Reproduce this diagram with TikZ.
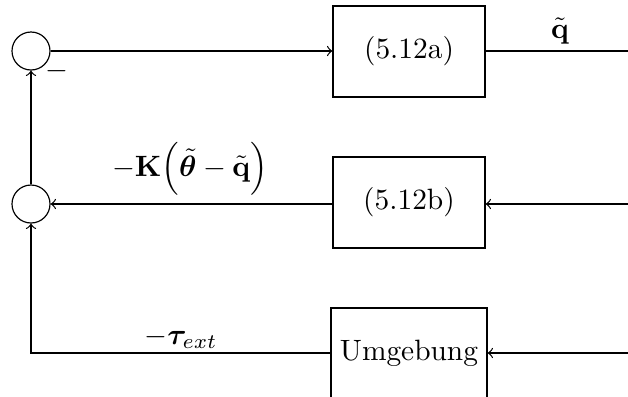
\documentclass[tikz,border=0pt]{standalone}
\usepackage{amsmath,bm}
\begin{document}
\begin{tikzpicture}[x=0.34pt,y=-0.34pt,
  sumnode/.style={circle,draw,minimum size=12.92pt,inner sep=0pt},
  blk/.style={draw,rectangle,minimum width=51.68pt,minimum height=30.94pt,inner sep=0pt},
  conn/.style={->,line width=0.4pt},
  lbl/.style={inner sep=0pt}]
\useasboundingbox (0,0) rectangle (628,396);
\clip (0,0) rectangle (628,396);
\node[sumnode] (s1) at (31,51) {};
\node[sumnode] (s2) at (31,204) {};
\node[blk] (a) at (409,51.5) {(5.12a)};
\node[blk] (b) at (409,202.5) {(5.12b)};
\node[blk,minimum width=53.04pt,minimum height=30.6pt] (u) at (409,353) {Umgebung};
\coordinate (outq) at (628,51);
\coordinate (inb) at (628,204);
\coordinate (inu) at (628,353);
\draw[conn] (s1) -- (a.west |- s1);
\draw (a.east |- outq) -- (outq);
\draw[conn] (inb) -- (b.east |- inb);
\draw[conn] (b.west |- s2) -- (s2);
\draw[conn] (s2) -- (s1);
\draw[conn] (inu) -- (u.east |- inu);
\draw[conn] (u.west) -| (s2.south);
\node[lbl,anchor=base] (mn) at (57,78.4) {$-$};
\node[lbl] (lq) at (560,31) {$\tilde{\mathbf{q}}$};
\node[lbl] (lk) at (190,169) {$-\mathbf{K}\!\left(\tilde{\bm{\theta}}-\tilde{\mathbf{q}}\right)$};
\node[lbl] (lt) at (181,338) {$-\bm{\tau}_{ext}$};
\end{tikzpicture}
\end{document}
